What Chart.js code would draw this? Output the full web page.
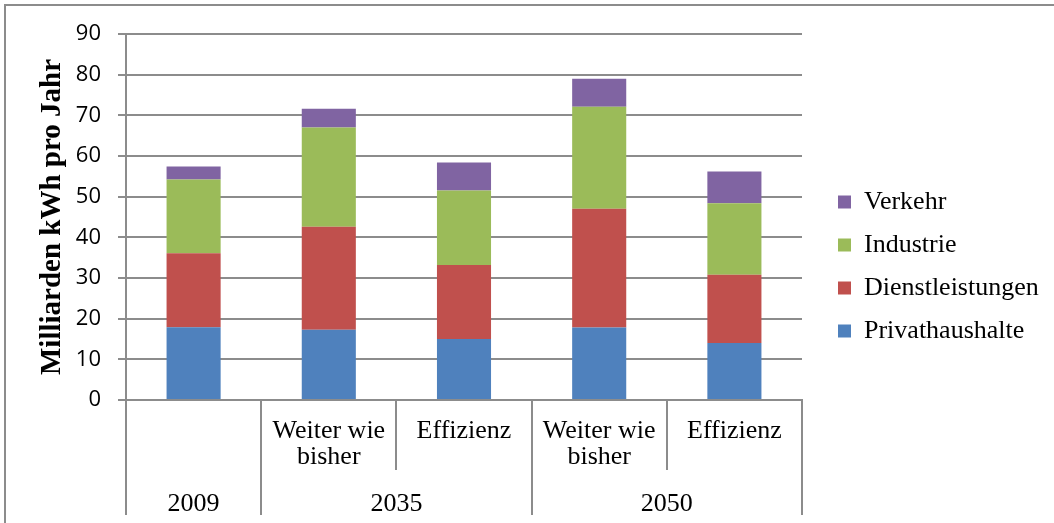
<!DOCTYPE html>
<html><head><meta charset="utf-8">
<script src="https://cdn.jsdelivr.net/npm/chart.js@4.4.0/dist/chart.umd.min.js"></script>
<style>
html,body{margin:0;padding:0;background:#fff;overflow:hidden;}
#wrap{position:relative;width:1054px;height:523px;overflow:hidden;}
#frame{position:absolute;left:4px;top:4px;width:1070px;height:540px;border-left:2px solid #8c8c8c;border-top:2px solid #8c8c8c;pointer-events:none;}
canvas{position:absolute;left:0;top:0;}
</style></head><body>
<div id="wrap"><canvas id="c" width="1054" height="523"></canvas><div id="frame"></div></div>
<script>
// ---- data ----
const categories = ['', ['Weiter wie', 'bisher'], 'Effizienz', ['Weiter wie', 'bisher'], 'Effizienz'];
const groupLabels = ['2009', '2035', '2050'];
const groupSizes = [1, 2, 2];
const privathaushalte = [17.9, 17.3, 15.0, 17.8, 14.0];
const dienstleistungen = [18.2, 25.3, 18.2, 29.2, 16.8];
const industrie = [18.1, 24.4, 18.3, 25.1, 17.6];
const verkehr = [3.2, 4.6, 6.9, 6.9, 7.8];
const seriesNames = ['Privathaushalte', 'Dienstleistungen', 'Industrie', 'Verkehr'];
const yMin = 0, yMax = 90, yStep = 10;

const colors = ['#4F81BD', '#C0504D', '#9BBB59', '#8064A2'];
const gridColor = '#8c8c8c';
const serif = "'Liberation Serif', 'Times New Roman', serif";

const multiLevel = {
  id: 'multiLevel',
  afterInit(chart) {
    const lg = chart.legend;
    if (lg) {
      const f = lg.fit;
      lg.fit = function () { f.call(this); this.width = 252; };
    }
  },
  afterLayout(chart) {
    const lg = chart.legend;
    if (lg) { lg.left += 19; lg.right += 19; lg.top -= 12; lg.bottom -= 12; }
  },
  afterDraw(chart) {
    const x = chart.scales.x;
    const ctx = chart.ctx;
    const n = categories.length;
    const groupEdges = new Set([0]);
    let acc = 0;
    groupSizes.forEach(s => { acc += s; groupEdges.add(acc); });
    ctx.save();
    ctx.strokeStyle = gridColor;
    ctx.lineWidth = 2;
    for (let k = 0; k <= n; k++) {
      const px = Math.round(x.getPixelForValue(k - 0.5));
      const bottom = x.top + (groupEdges.has(k) ? 115 : 70);
      ctx.beginPath();
      ctx.moveTo(px, x.top);
      ctx.lineTo(px, bottom);
      ctx.stroke();
    }
    ctx.fillStyle = '#000';
    ctx.font = "26px " + serif;
    ctx.textAlign = 'center';
    ctx.textBaseline = 'alphabetic';
    let start = 0;
    groupSizes.forEach((s, i) => {
      const l = x.getPixelForValue(start - 0.5);
      const r = x.getPixelForValue(start + s - 0.5);
      ctx.fillText(groupLabels[i], (l + r) / 2, x.top + 111);
      start += s;
    });
    ctx.restore();
  }
};

const seriesData = [privathaushalte, dienstleistungen, industrie, verkehr];
new Chart(document.getElementById('c'), {
  type: 'bar',
  data: {
    labels: categories,
    datasets: seriesNames.map((name, i) => ({
      label: name,
      data: seriesData[i],
      backgroundColor: colors[i],
      borderWidth: 0,
      barPercentage: 0.4,
      categoryPercentage: 1.0
    }))
  },
  options: {
    responsive: false,
    animation: false,
    layout: { padding: { top: 34, left: 0, right: 0, bottom: 0 } },
    plugins: {
      legend: {
        position: 'right',
        align: 'center',
        reverse: true,
        labels: {
          font: { family: serif, size: 26 },
          color: '#000',
          boxWidth: 13,
          boxHeight: 13,
          padding: 17
        }
      },
      tooltip: { enabled: false }
    },
    scales: {
      x: {
        stacked: true,
        offset: true,
        grid: { display: false },
        border: { display: true, color: gridColor, width: 2 },
        ticks: {
          font: { family: serif, size: 26, lineHeight: 1.0 },
          color: '#000',
          padding: 10,
          maxRotation: 0,
          autoSkip: false
        },
        afterFit(s) { s.height = 123; }
      },
      y: {
        stacked: true,
        min: yMin,
        max: yMax,
        ticks: { stepSize: yStep, font: { family: "'Open Sans', sans-serif", size: 22 }, color: '#000', padding: 17 },
        grid: { color: gridColor, lineWidth: 2, tickLength: 8 },
        border: { color: gridColor, width: 2 },
        title: {
          display: true,
          text: 'Milliarden kWh pro Jahr',
          font: { family: serif, size: 29, weight: 'bold' },
          color: '#000',
          padding: { top: 35, bottom: 0 }
        },
        afterFit(s) { s.width = 126; }
      }
    }
  },
  plugins: [multiLevel]
});
</script>
</body></html>
